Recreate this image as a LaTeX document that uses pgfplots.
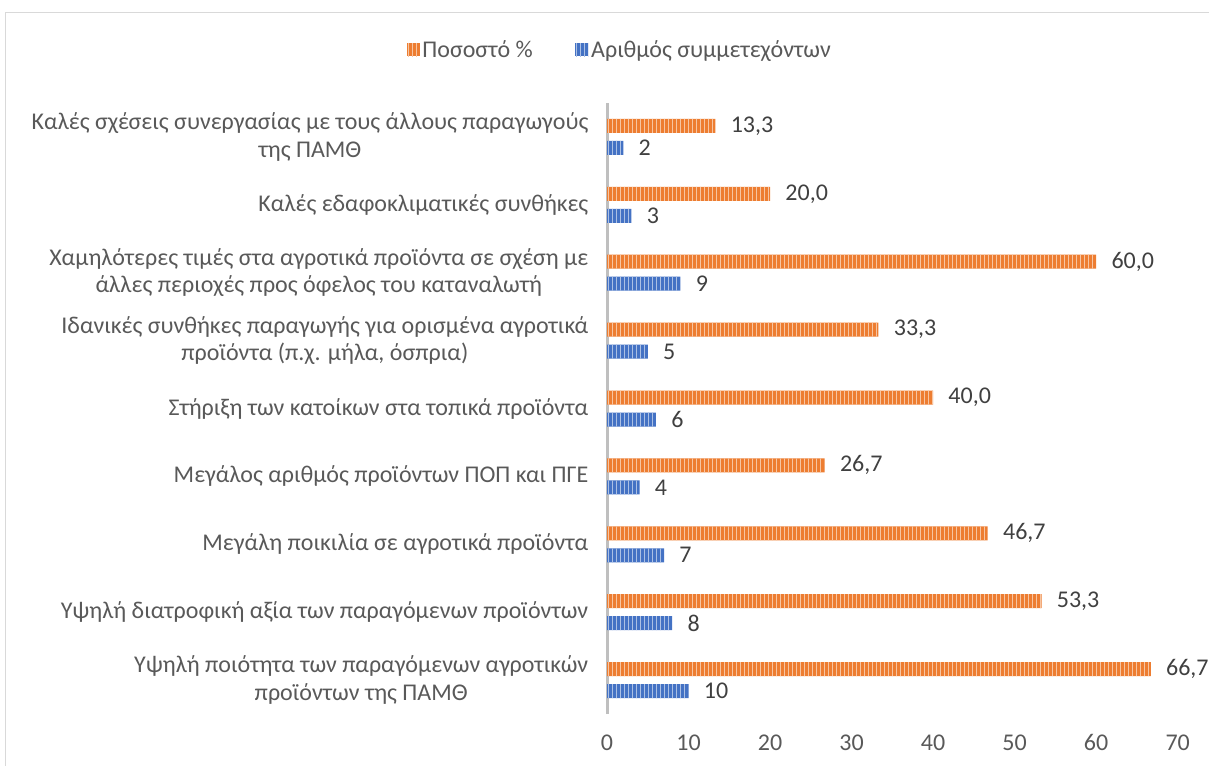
\documentclass[border=0pt]{standalone}
\usepackage{pgfplots}
\pgfplotsset{compat=1.18}
\usetikzlibrary{patterns}
\usepackage{fontspec}
\setmainfont{Carlito}
\definecolor{orangeC}{HTML}{ED7D31}
\definecolor{blueC}{HTML}{4472C4}
\definecolor{txt}{HTML}{404040}
\definecolor{ticktxt}{HTML}{595959}
\definecolor{axisgray}{HTML}{BFBFBF}
\definecolor{bordergray}{HTML}{D9D9D9}
\pgfplotstableread{
y pct num
8 13.3 2
7 20.0 3
6 60.0 9
5 33.3 5
4 40.0 6
3 26.7 4
2 46.7 7
1 53.3 8
0 66.7 10
}\datatable
\begin{document}
\begin{tikzpicture}
\clip (0,0) rectangle (906.75pt,573.75pt);
\draw[bordergray, line width=0.75pt] (3.75pt,564pt) rectangle (960pt,-20pt);
\begin{axis}[
  at={(455.25pt,38.25pt)}, anchor=south west,
  scale only axis, width=428pt, height=458.25pt,
  xbar, bar width=10.5pt,
  xmin=0, xmax=70, ymin=-0.5, ymax=8.5,
  xtick={0,10,...,70},
  ytick={0,...,8},
  yticklabels={
    {Υψηλή ποιότητα των παραγόμενων αγροτικών\\προϊόντων της ΠΑΜΘ},
    {Υψηλή διατροφική αξία των παραγόμενων προϊόντων},
    {Μεγάλη ποικιλία σε αγροτικά προϊόντα},
    {Μεγάλος αριθμός προϊόντων ΠΟΠ και ΠΓΕ},
    {Στήριξη των κατοίκων στα τοπικά προϊόντα},
    {Ιδανικές συνθήκες παραγωγής για ορισμένα αγροτικά\\προϊόντα (π.χ. μήλα, όσπρια)},
    {Χαμηλότερες τιμές στα αγροτικά προϊόντα σε σχέση με\\άλλες περιοχές προς όφελος του καταναλωτή},
    {Καλές εδαφοκλιματικές συνθήκες},
    {Καλές σχέσεις συνεργασίας με τους άλλους παραγωγούς\\της ΠΑΜΘ}
  },
  axis y line*=left, axis x line*=bottom,
  x axis line style={draw=none},
  y axis line style={axisgray, line width=2.25pt},
  major tick length=0pt, tick style={draw=none},
  /pgf/number format/assume math mode=true,
  xticklabel style={font=\fontsize{18}{21}\selectfont, text=ticktxt, yshift=-12pt},
  yticklabel style={font=\fontsize{18}{20.5}\selectfont, text=ticktxt, align=center, anchor=east, xshift=-10.5pt},
  legend style={at={(axis description cs:0.023,1.087)}, anchor=center, draw=none,
    legend columns=2, font=\fontsize{18}{21}\selectfont, text=ticktxt,
    /tikz/every even column/.append style={column sep=30pt},
    /tikz/every odd column/.append style={column sep=0pt}},
  legend cell align=left,
  legend image code/.code={\path[#1] (0pt,-4.9pt) rectangle (9.75pt,4.9pt);},
  nodes near coords align={horizontal},
  every node near coord/.append style={font=\fontsize{18}{21}\selectfont, text=txt, anchor=west, xshift=8pt},
]
\addplot[draw=none, fill=orangeC, postaction={pattern=vertical lines, pattern color=orangeC!45!white},
  bar shift=8.25pt,
  nodes near coords={\pgfmathprintnumber[fixed,fixed zerofill,precision=1,use comma,assume math mode=true]{\pgfplotspointmeta}}]
  table[x=pct, y=y] {\datatable};
\addlegendentry{Ποσοστό \%}
\addplot[draw=none, fill=blueC, postaction={pattern=vertical lines, pattern color=blueC!45!white},
  bar shift=-8.25pt,
  nodes near coords={\pgfmathprintnumber[fixed,precision=0,assume math mode=true]{\pgfplotspointmeta}}]
  table[x=num, y=y] {\datatable};
\addlegendentry{Αριθμός συμμετεχόντων}
\end{axis}
\end{tikzpicture}
\end{document}
